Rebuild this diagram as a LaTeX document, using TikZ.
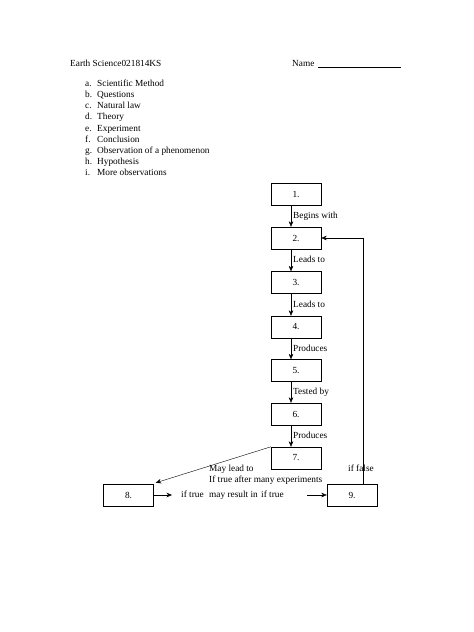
\documentclass[tikz,border=0pt]{standalone}
\usepackage{fontspec}
\setmainfont{Liberation Serif}
\usepackage{tikz}
\usetikzlibrary{arrows.meta}

\begin{document}
\begin{tikzpicture}[x=1pt, y=-1pt, font=\fontsize{9.3}{11}\selectfont,
  stagebox/.style={draw, minimum width=50pt, minimum height=22pt, inner sep=0pt},
  txt/.style={anchor=west, inner sep=0pt, text height=6.6pt, text depth=2pt},
  flow/.style={-{Stealth[length=5.5pt, width=4.5pt]}}]
  \useasboundingbox[fill=white] (0,0) rectangle (474,632);

  % header
  \node[txt] (title) at (70,64) {Earth Science021814KS};
  \node[txt] (name) at (292,64) {Name};
  \draw (318,67) -- (401,67);

  % word list
  \foreach \i/\lbl/\word in {0/a./Scientific Method, 1/b./Questions, 2/c./Natural law,
      3/d./Theory, 4/e./Experiment, 5/f./Conclusion, 6/g./Observation of a phenomenon,
      7/h./Hypothesis, 8/i./More observations}
  {
    \node[txt] (lbl\i) at (85,84+11.2*\i) {\lbl};
    \node[txt] (word\i) at (97,84+11.2*\i) {\word};
  }

  % boxes
  \node[stagebox] (s1) at (296,194) {1.};
  \node[stagebox] (s2) at (296,238) {2.};
  \node[stagebox] (s3) at (296,282.5) {3.};
  \node[stagebox] (s4) at (296,327) {4.};
  \node[stagebox] (s5) at (296,370.5) {5.};
  \node[stagebox] (s6) at (296,414) {6.};
  \node[stagebox] (s7) at (296,458) {7.};
  \node[stagebox] (s8) at (128.5,495) {8.};
  \node[stagebox] (s9) at (352,495) {9.};

  % down the chain
  \draw[flow] ([xshift=-5pt]s1.south) -- ([xshift=-5pt]s2.north) node[midway, txt, xshift=2pt] {Begins with};
  \draw[flow] ([xshift=-5pt]s2.south) -- ([xshift=-5pt]s3.north) node[midway, txt, xshift=2pt] {Leads to};
  \draw[flow] ([xshift=-5pt]s3.south) -- ([xshift=-5pt]s4.north) node[midway, txt, xshift=2pt] {Leads to};
  \draw[flow] ([xshift=-5pt]s4.south) -- ([xshift=-5pt]s5.north) node[midway, txt, xshift=2pt] {Produces};
  \draw[flow] ([xshift=-5pt]s5.south) -- ([xshift=-5pt]s6.north) node[midway, txt, xshift=2pt] {Tested by};
  \draw[flow] ([xshift=-5pt]s6.south) -- ([xshift=-5pt]s7.north) node[midway, txt, xshift=2pt] {Produces};

  % bottom row
  \draw[flow] (s7.north west) -- ([xshift=2pt,yshift=1pt]s8.north east);
  \coordinate (leftend) at (172,495);
  \coordinate (rightstart) at (307,495);
  \draw[flow] (s8.east) -- (leftend);
  \draw[flow] (rightstart) -- (s9.west);
  \draw[flow] ([xshift=11pt]s9.north) |- (s2.east);

  \node[txt] (maylead) at (209,469) {May lead to};
  \node[txt] (iftrue) at (209,480) {If true after many experiments};
  \node[txt] (true1) at (181,495) {if true};
  \node[txt] (result) at (209,495) {may result in};
  \node[txt] (true2) at (261,495) {if true};
  \node[txt] (false) at (348,469) {if false};
\end{tikzpicture}
\end{document}
